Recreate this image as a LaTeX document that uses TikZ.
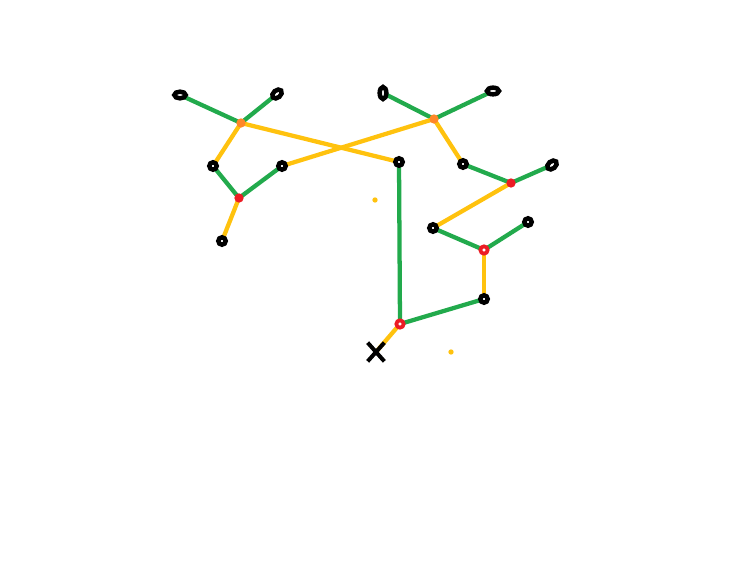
\documentclass[tikz,border=0pt]{standalone}
\usetikzlibrary{shapes.geometric,shapes.misc,backgrounds}
\definecolor{lgrn}{RGB}{34,170,76}
\definecolor{lyel}{RGB}{255,194,14}
\definecolor{lorg}{RGB}{255,135,40}
\definecolor{lred}{RGB}{236,28,36}
\tikzset{%
    grn/.style={line width = 3.2pt, lgrn, line cap=round},
    yel/.style={line width = 3.2pt, lyel, line cap=round},
    rng/.style={ellipse, draw=black, fill=white, line width=3.4pt, minimum width=5.5pt, minimum height=5.5pt, inner sep=0pt},
    jor/.style={circle, fill=lorg, minimum size=7pt, inner sep=0pt},
    jrd/.style={circle, fill=lred, minimum size=7pt, inner sep=0pt},
    jrr/.style={circle, draw=lred, fill=white, line width=2.8pt, minimum size=5.5pt, inner sep=0pt},
    dot/.style={circle, fill=lyel, minimum size=4pt, inner sep=0pt},
    crs/.style={cross out, draw=black, line width=3pt, minimum width=9.5pt, minimum height=11pt, inner sep=0pt},
}
\begin{document}
\begin{tikzpicture}[x=0.75pt,y=-0.75pt]
    \useasboundingbox (0,0) rectangle (756,573);
    % rings
    \node[rng, minimum width=8.5pt, minimum height=5pt] (a1) at (180,95) {};
    \node[rng, rotate=40, minimum width=8pt] (a2) at (277,94) {};
    \node[rng] (a3) at (213,166) {};
    \node[rng] (a4) at (282,166) {};
    \node[rng] (a5) at (222,241) {};
    \node[rng, minimum width=5pt, minimum height=9pt] (b1) at (383,93) {};
    \node[rng, minimum width=9pt, minimum height=5pt] (b2) at (493,91) {};
    \node[rng] (b3) at (399,162) {};
    \node[rng] (b4) at (463,164) {};
    \node[rng, rotate=40, minimum width=8pt] (b5) at (552,165) {};
    \node[rng] (c1) at (433,228) {};
    \node[rng] (c2) at (528,222) {};
    \node[rng] (c3) at (484,299) {};
    % crossing point
    \node[crs] (x) at (376,352) {};
    % stray dots
    \node[dot] (d1) at (375,200) {};
    \node[dot] (d2) at (451,352) {};
    % joints
    \node[jor] (j1) at (241,123) {};
    \node[jrd] (j2) at (239,198) {};
    \node[jor] (j3) at (434,119) {};
    \node[jrd] (j4) at (511,183) {};
    \node[jrr] (j5) at (484,250) {};
    \node[jrr] (j6) at (400,324) {};
    % links
    \begin{scope}[on background layer]
    \draw [grn] (a1.center) -- (j1.center);
    \draw [grn] (a2.center) -- (j1.center);
    \draw [grn] (a3.center) -- (j2.center);
    \draw [grn] (a4.center) -- (j2.center);
    \draw [grn] (b1.center) -- (j3.center);
    \draw [grn] (b2.center) -- (j3.center);
    \draw [grn] (b4.center) -- (j4.center);
    \draw [grn] (b5.center) -- (j4.center);
    \draw [grn] (c1.center) -- (j5.center);
    \draw [grn] (c2.center) -- (j5.center);
    \draw [grn] (b3.center) -- (j6.center);
    \draw [grn] (c3.center) -- (j6.center);
    \draw [yel] (j1.center) -- (a3.center);
    \draw [yel] (j1.center) -- (b3.center);
    \draw [yel] (j3.center) -- (a4.center);
    \draw [yel] (j3.center) -- (b4.center);
    \draw [yel] (j2.center) -- (a5.center);
    \draw [yel] (j4.center) -- (c1.center);
    \draw [yel] (j5.center) -- (c3.center);
    \draw [yel] (j6.center) -- (x.center);
    \end{scope}
\end{tikzpicture}
\end{document}
